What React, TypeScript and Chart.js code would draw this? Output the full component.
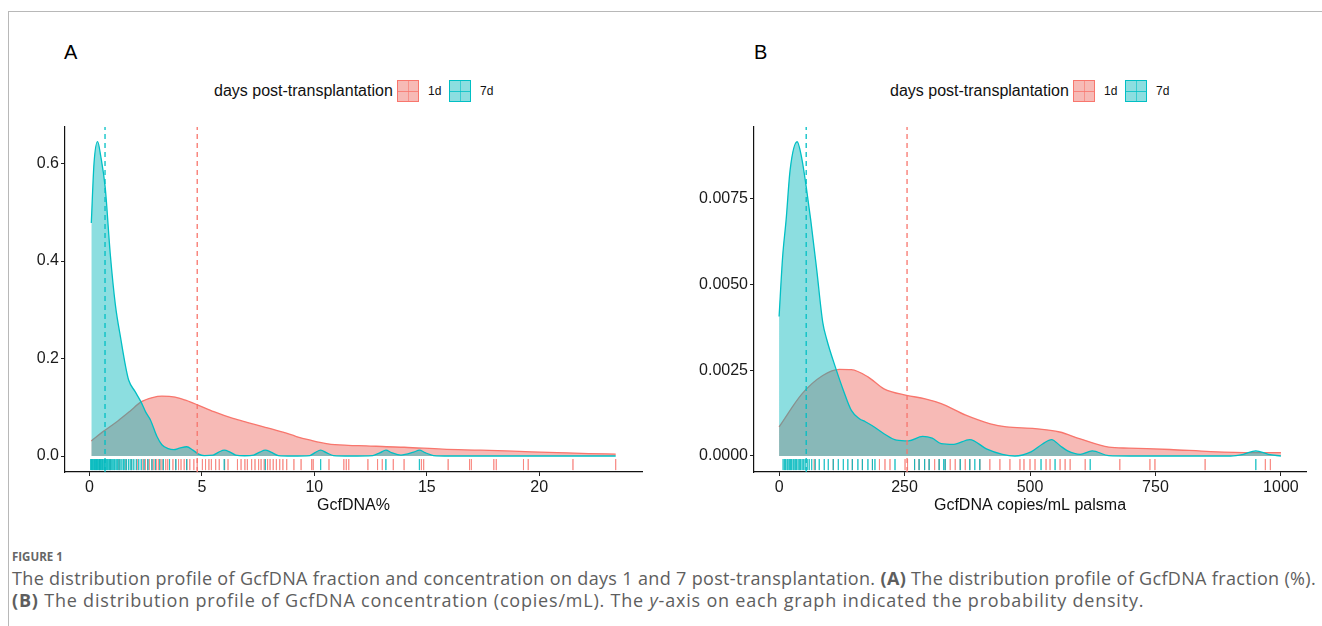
import React, { useEffect, useRef } from 'react';
import { Chart, registerables } from 'chart.js';

Chart.register(...registerables);

const SANS = '"Liberation Sans", Arial, Helvetica, sans-serif';
const CAPTION_FONT = '"Open Sans", "Noto Sans", Lato, sans-serif';
Chart.defaults.font.family = SANS;

const RED = '#F8766D';
const TEAL = '#00BFC4';
const RED_FILL = 'rgba(240, 118, 109, 0.5)';
const TEAL_FILL = 'rgba(0, 182, 187, 0.45)';
const RED_RUG = 'rgba(248, 118, 109, 0.5)';
const TEAL_RUG = 'rgba(0, 185, 190, 0.55)';

// ---- Panel A: GcfDNA fraction (%) ----
const fracGrid7d = [0.08, 0.2, 0.36, 0.5, 0.7, 0.92, 1.15, 1.4, 1.6, 1.74, 2.03, 2.29, 2.5, 2.71, 3.0, 3.22, 3.5, 3.75, 4.0, 4.32, 4.6, 4.85, 5.1, 5.5, 5.75, 5.99, 6.25, 6.5, 6.9, 7.3, 7.57, 7.82, 8.07, 8.4, 9.0, 9.8, 10.03, 10.28, 10.53, 10.85, 11.6, 12.6, 12.93, 13.18, 13.43, 13.85, 14.42, 14.67, 14.92, 15.3, 16.0, 18.0, 20.0, 23.4];
const fracDens7d = [0.478, 0.6, 0.645, 0.615, 0.55, 0.416, 0.31, 0.238, 0.185, 0.156, 0.132, 0.111, 0.09, 0.074, 0.04, 0.023, 0.015, 0.013, 0.016, 0.019, 0.012, 0.004, 0.001, 0.002, 0.008, 0.012, 0.008, 0.002, 0.0005, 0.002, 0.008, 0.012, 0.008, 0.001, 0.0, 0.001, 0.007, 0.012, 0.007, 0.001, 0.0, 0.001, 0.007, 0.012, 0.007, 0.002, 0.008, 0.012, 0.007, 0.001, 0, 0, 0, 0];
const fracGrid1d = [0.08, 0.6, 1.26, 1.8, 2.29, 2.8, 3.22, 3.81, 4.3, 4.8, 5.53, 6.38, 7.0, 7.74, 8.6, 9.2, 9.78, 10.6, 11.5, 12.3, 13.2, 14.0, 15.7, 17.4, 19.1, 20.8, 22.2, 23.4];
const fracDens1d = [0.031, 0.05, 0.072, 0.092, 0.111, 0.12, 0.123, 0.121, 0.114, 0.105, 0.091, 0.077, 0.069, 0.06, 0.049, 0.04, 0.033, 0.025, 0.022, 0.021, 0.019, 0.018, 0.014, 0.012, 0.0095, 0.007, 0.005, 0.004];
const fracRug7d = [0.05, 0.09, 0.12, 0.15, 0.19, 0.22, 0.26, 0.29, 0.31, 0.35, 0.38, 0.42, 0.45, 0.48, 0.51, 0.55, 0.57, 0.61, 0.66, 0.69, 0.73, 0.77, 0.81, 0.86, 0.9, 0.94, 0.99, 1.04, 1.09, 1.13, 1.19, 1.25, 1.31, 1.36, 1.44, 1.51, 1.57, 1.64, 1.73, 1.81, 1.88, 1.97, 2.08, 2.19, 2.3, 2.43, 2.6, 2.78, 2.93, 3.12, 3.28, 3.56, 3.84, 4.32, 5.99, 7.82, 10.28, 13.18, 14.67];
const fracRug1d = [0.45, 0.92, 1.31, 1.62, 1.87, 2.12, 2.38, 2.49, 2.58, 2.66, 2.77, 2.86, 2.97, 3.06, 3.18, 3.27, 3.39, 3.48, 3.71, 3.83, 3.96, 4.07, 4.21, 4.33, 4.46, 4.64, 4.79, 5.02, 5.16, 5.31, 5.42, 5.61, 5.77, 6.01, 6.16, 6.58, 6.74, 6.91, 7.02, 7.21, 7.36, 7.52, 7.63, 7.77, 7.92, 8.03, 8.17, 8.31, 8.46, 8.6, 8.77, 9.09, 9.41, 9.88, 9.95, 10.65, 11.31, 11.42, 11.53, 12.38, 12.81, 13.02, 13.51, 13.99, 14.76, 14.86, 15.95, 16.9, 16.98, 17.98, 18.09, 19.3, 19.51, 21.5, 23.4];
const fracMean7d = 0.69;
const fracMean1d = 4.79;
const fracXTicks = [0, 5, 10, 15, 20];
const fracYTicks = [0, 0.2, 0.4, 0.6];

// ---- Panel B: GcfDNA concentration (copies/mL) ----
const concGrid7d = [0, 7, 14, 22, 36, 45, 54, 63, 75, 87, 95, 112, 128, 144, 160, 172, 185, 209, 234, 258, 286, 305, 323, 348, 380, 413, 445, 470, 502, 525, 543, 560, 575, 600, 624, 657, 700, 800, 900, 925, 950, 975, 1000];
const concDens7d = [0.00407, 0.0058, 0.00689, 0.00835, 0.00917, 0.0087, 0.00786, 0.00689, 0.00543, 0.0039, 0.0034, 0.0026, 0.00192, 0.00133, 0.00109, 0.001, 0.00089, 0.00065, 0.00046, 0.00044, 0.00057, 0.00052, 0.00036, 0.00034, 0.00048, 0.00021, 0.00005, 0, 0.00012, 0.00035, 0.00048, 0.0003, 0.00015, 0.00005, 0.00015, 0.00001, 0, 0, 0, 0.00005, 0.00015, 0.00005, 0];
const concGrid1d = [0, 46, 87, 120, 144, 177, 209, 254, 291, 323, 372, 421, 453, 510, 559, 600, 657, 697, 779, 860, 942, 1000];
const concDens1d = [0.00085, 0.00182, 0.00235, 0.00253, 0.00252, 0.00231, 0.00196, 0.00177, 0.00167, 0.00153, 0.00119, 0.00094, 0.00085, 0.0008, 0.0007, 0.0005, 0.00026, 0.00023, 0.00019, 0.00013, 0.0001, 0.0001];
const concRug7d = [8, 11, 13, 16, 18, 21, 23, 25, 28, 30, 33, 35, 38, 41, 43, 46, 49, 52, 56, 60, 65, 72, 80, 90, 98, 108, 118, 128, 137, 146, 157, 166, 177, 186, 191, 231, 270, 279, 290, 299, 319, 328, 331, 361, 380, 390, 400, 522, 550, 620, 950];
const concRug1d = [70, 108, 146, 166, 186, 200, 211, 221, 251, 256, 270, 279, 290, 299, 310, 319, 331, 341, 351, 361, 371, 380, 400, 420, 440, 460, 480, 488, 500, 510, 532, 540, 560, 570, 580, 610, 679, 739, 749, 849, 969, 979];
const concMean7d = 54;
const concMean1d = 255;
const concXTicks = [0, 250, 500, 750, 1000];
const concYTicks = [0, 0.0025, 0.005, 0.0075];

type Pt = { x: number; y: number | null };

interface PanelSpec {
  grid1d: number[]; dens1d: number[];
  grid7d: number[]; dens7d: number[];
  rug1d: number[]; rug7d: number[];
  mean1d: number; mean7d: number;
  xTicks: number[]; yTicks: number[];
  xMin: number; xMax: number; yMin: number; yMax: number;
  yDecimals: number;
  xTitle: string;
}

const panelA: PanelSpec = {
  grid1d: fracGrid1d, dens1d: fracDens1d, grid7d: fracGrid7d, dens7d: fracDens7d,
  rug1d: fracRug1d, rug7d: fracRug7d, mean1d: fracMean1d, mean7d: fracMean7d,
  xTicks: fracXTicks, yTicks: fracYTicks,
  xMin: -1.09, xMax: 24.57, yMin: -0.0328, yMax: 0.675,
  yDecimals: 1, xTitle: 'GcfDNA%',
};

const panelB: PanelSpec = {
  grid1d: concGrid1d, dens1d: concDens1d, grid7d: concGrid7d, dens7d: concDens7d,
  rug1d: concRug1d, rug7d: concRug7d, mean1d: concMean1d, mean7d: concMean7d,
  xTicks: concXTicks, yTicks: concYTicks,
  xMin: -50, xMax: 1050, yMin: -0.000467, yMax: 0.0096,
  yDecimals: 4, xTitle: 'GcfDNA copies/mL palsma',
};

const toPoints = (xs: number[], ys: number[]): Pt[] => xs.map((x, i) => ({ x, y: ys[i] }));

// each rug value becomes a short vertical segment below the zero line, separated by gaps
const rugSegments = (vals: number[], yTop: number, yBottom: number): Pt[] =>
  vals.flatMap((v) => [{ x: v, y: yTop }, { x: v, y: yBottom }, { x: v, y: null }]);

function buildConfig(p: PanelSpec, yAxisWidth: number, padRight: number): any {
  const rugTop = p.yMin * 0.19;
  const rugBottom = p.yMin * 0.88;
  const straight = { pointRadius: 0, tension: 0, fill: false, spanGaps: false, borderCapStyle: 'butt' };
  const curve = { pointRadius: 0, cubicInterpolationMode: 'monotone', borderWidth: 1.3, fill: 'origin' };
  return {
    type: 'line',
    data: {
      datasets: [
        { ...straight, data: rugSegments(p.rug7d, rugTop, rugBottom), borderColor: TEAL_RUG, borderWidth: 1 },
        { ...straight, data: rugSegments(p.rug1d, rugTop, rugBottom), borderColor: RED_RUG, borderWidth: 1 },
        { ...straight, data: [{ x: p.mean7d, y: p.yMin }, { x: p.mean7d, y: p.yMax }], borderColor: TEAL, borderWidth: 1.3, borderDash: [5, 4] },
        { ...straight, data: [{ x: p.mean1d, y: p.yMin }, { x: p.mean1d, y: p.yMax }], borderColor: RED, borderWidth: 1.3, borderDash: [5, 4] },
        { ...curve, label: '7d', data: toPoints(p.grid7d, p.dens7d), borderColor: TEAL, backgroundColor: TEAL_FILL },
        { ...curve, label: '1d', data: toPoints(p.grid1d, p.dens1d), borderColor: RED, backgroundColor: RED_FILL },
      ],
    },
    options: {
      responsive: false,
      devicePixelRatio: 1,
      animation: false,
      events: [],
      layout: { padding: { left: 0, right: padRight, top: 12, bottom: 0 } },
      plugins: { legend: { display: false }, tooltip: { enabled: false } },
      scales: {
        x: {
          type: 'linear',
          min: p.xMin,
          max: p.xMax,
          afterBuildTicks: (s: any) => { s.ticks = p.xTicks.map((v) => ({ value: v })); },
          afterFit: (s: any) => { s.height = 53; },
          grid: { display: true, drawOnChartArea: false, drawTicks: true, tickLength: 4, color: '#222', lineWidth: 1 },
          border: { display: true, color: '#111', width: 1.2 },
          ticks: { color: '#1a1a1a', font: { size: 16 }, padding: 2, maxRotation: 0, autoSkip: false, callback: (v: any) => String(v) },
          title: { display: true, text: p.xTitle, color: '#111', font: { size: 16 }, padding: { top: 0, bottom: 10 } },
        },
        y: {
          type: 'linear',
          min: p.yMin,
          max: p.yMax,
          afterBuildTicks: (s: any) => { s.ticks = p.yTicks.map((v) => ({ value: v })); },
          afterFit: (s: any) => { s.width = yAxisWidth; },
          grid: { display: true, drawOnChartArea: false, drawTicks: true, tickLength: 4, color: '#222', lineWidth: 1 },
          border: { display: true, color: '#111', width: 1.2 },
          ticks: { color: '#1a1a1a', font: { size: 16 }, padding: 2, autoSkip: false, callback: (v: any) => Number(v).toFixed(p.yDecimals) },
        },
      },
    },
  };
}

function DensityChart({ spec, left, top, yAxisWidth, padRight }: { spec: PanelSpec; left: number; top: number; yAxisWidth: number; padRight: number }) {
  const ref = useRef<HTMLCanvasElement | null>(null);
  useEffect(() => {
    if (!ref.current) return;
    const chart = new Chart(ref.current, buildConfig(spec, yAxisWidth, padRight));
    return () => chart.destroy();
  }, [spec, yAxisWidth, padRight]);
  return (
    <canvas
      ref={ref}
      width={640}
      height={410}
      style={{ position: 'absolute', left, top, width: 640, height: 410 }}
    />
  );
}

function LegendKey({ left, color, fill }: { left: number; color: string; fill: string }) {
  return (
    <div style={{ position: 'absolute', left, top: 80, width: 22, height: 22, boxSizing: 'border-box', border: `1.2px solid ${color}`, background: fill }}>
      <div style={{ position: 'absolute', left: 0, top: 9.5, width: 20, height: 1, background: color, opacity: 0.8 }} />
      <div style={{ position: 'absolute', left: 9.5, top: 0, width: 1, height: 20, background: color, opacity: 0.6 }} />
    </div>
  );
}

function PanelHeader({ offset, letterLeft, letter }: { offset: number; letterLeft: number; letter: string }) {
  const small: React.CSSProperties = { position: 'absolute', top: 83, fontSize: 12, lineHeight: '16px', fontFamily: SANS, color: '#111' };
  return (
    <>
      <div style={{ position: 'absolute', left: letterLeft, top: 42, fontSize: 20, lineHeight: '20px', fontFamily: SANS, color: '#000' }}>{letter}</div>
      <div style={{ position: 'absolute', left: 214 + offset, top: 80, fontSize: 16, lineHeight: '22px', fontFamily: SANS, color: '#111', whiteSpace: 'nowrap' }}>days post-transplantation</div>
      <LegendKey left={397 + offset} color={RED} fill={RED_FILL} />
      <div style={{ ...small, left: 428 + offset }}>1d</div>
      <LegendKey left={449 + offset} color={TEAL} fill={TEAL_FILL} />
      <div style={{ ...small, left: 480 + offset }}>7d</div>
    </>
  );
}

export default function App() {
  const capLine: React.CSSProperties = { position: 'absolute', left: 12, fontFamily: CAPTION_FONT, fontSize: 18, lineHeight: '22px', color: '#5e5e5e', whiteSpace: 'nowrap' };
  return (
    <div style={{ position: 'absolute', left: 0, top: 0, width: 1322, height: 626, background: '#fff', overflow: 'hidden' }}>
      <div style={{ position: 'absolute', left: 8, top: 11, width: 1314, height: 615, borderTop: '1px solid #b8b8b8', borderLeft: '1px solid #b8b8b8' }} />
      <PanelHeader offset={0} letterLeft={64} letter="A" />
      <PanelHeader offset={676} letterLeft={754} letter="B" />
      <DensityChart spec={panelA} left={15} top={115} yAxisWidth={50} padRight={13} />
      <DensityChart spec={panelB} left={680} top={115} yAxisWidth={74} padRight={14} />
      <div style={{ position: 'absolute', left: 12, top: 549, fontFamily: CAPTION_FONT, fontSize: 11.5, fontWeight: 700, lineHeight: '16px', color: '#666' }}>FIGURE 1</div>
      <div style={{ ...capLine, top: 567, letterSpacing: 0.34 }}>
        The distribution profile of GcfDNA fraction and concentration on days 1 and 7 post-transplantation. <b>(A)</b> The distribution profile of GcfDNA fraction (%).
      </div>
      <div style={{ ...capLine, top: 589, letterSpacing: 0.8 }}>
        <b>(B)</b> The distribution profile of GcfDNA concentration (copies/mL). The <i>y</i>-axis on each graph indicated the probability density.
      </div>
    </div>
  );
}
